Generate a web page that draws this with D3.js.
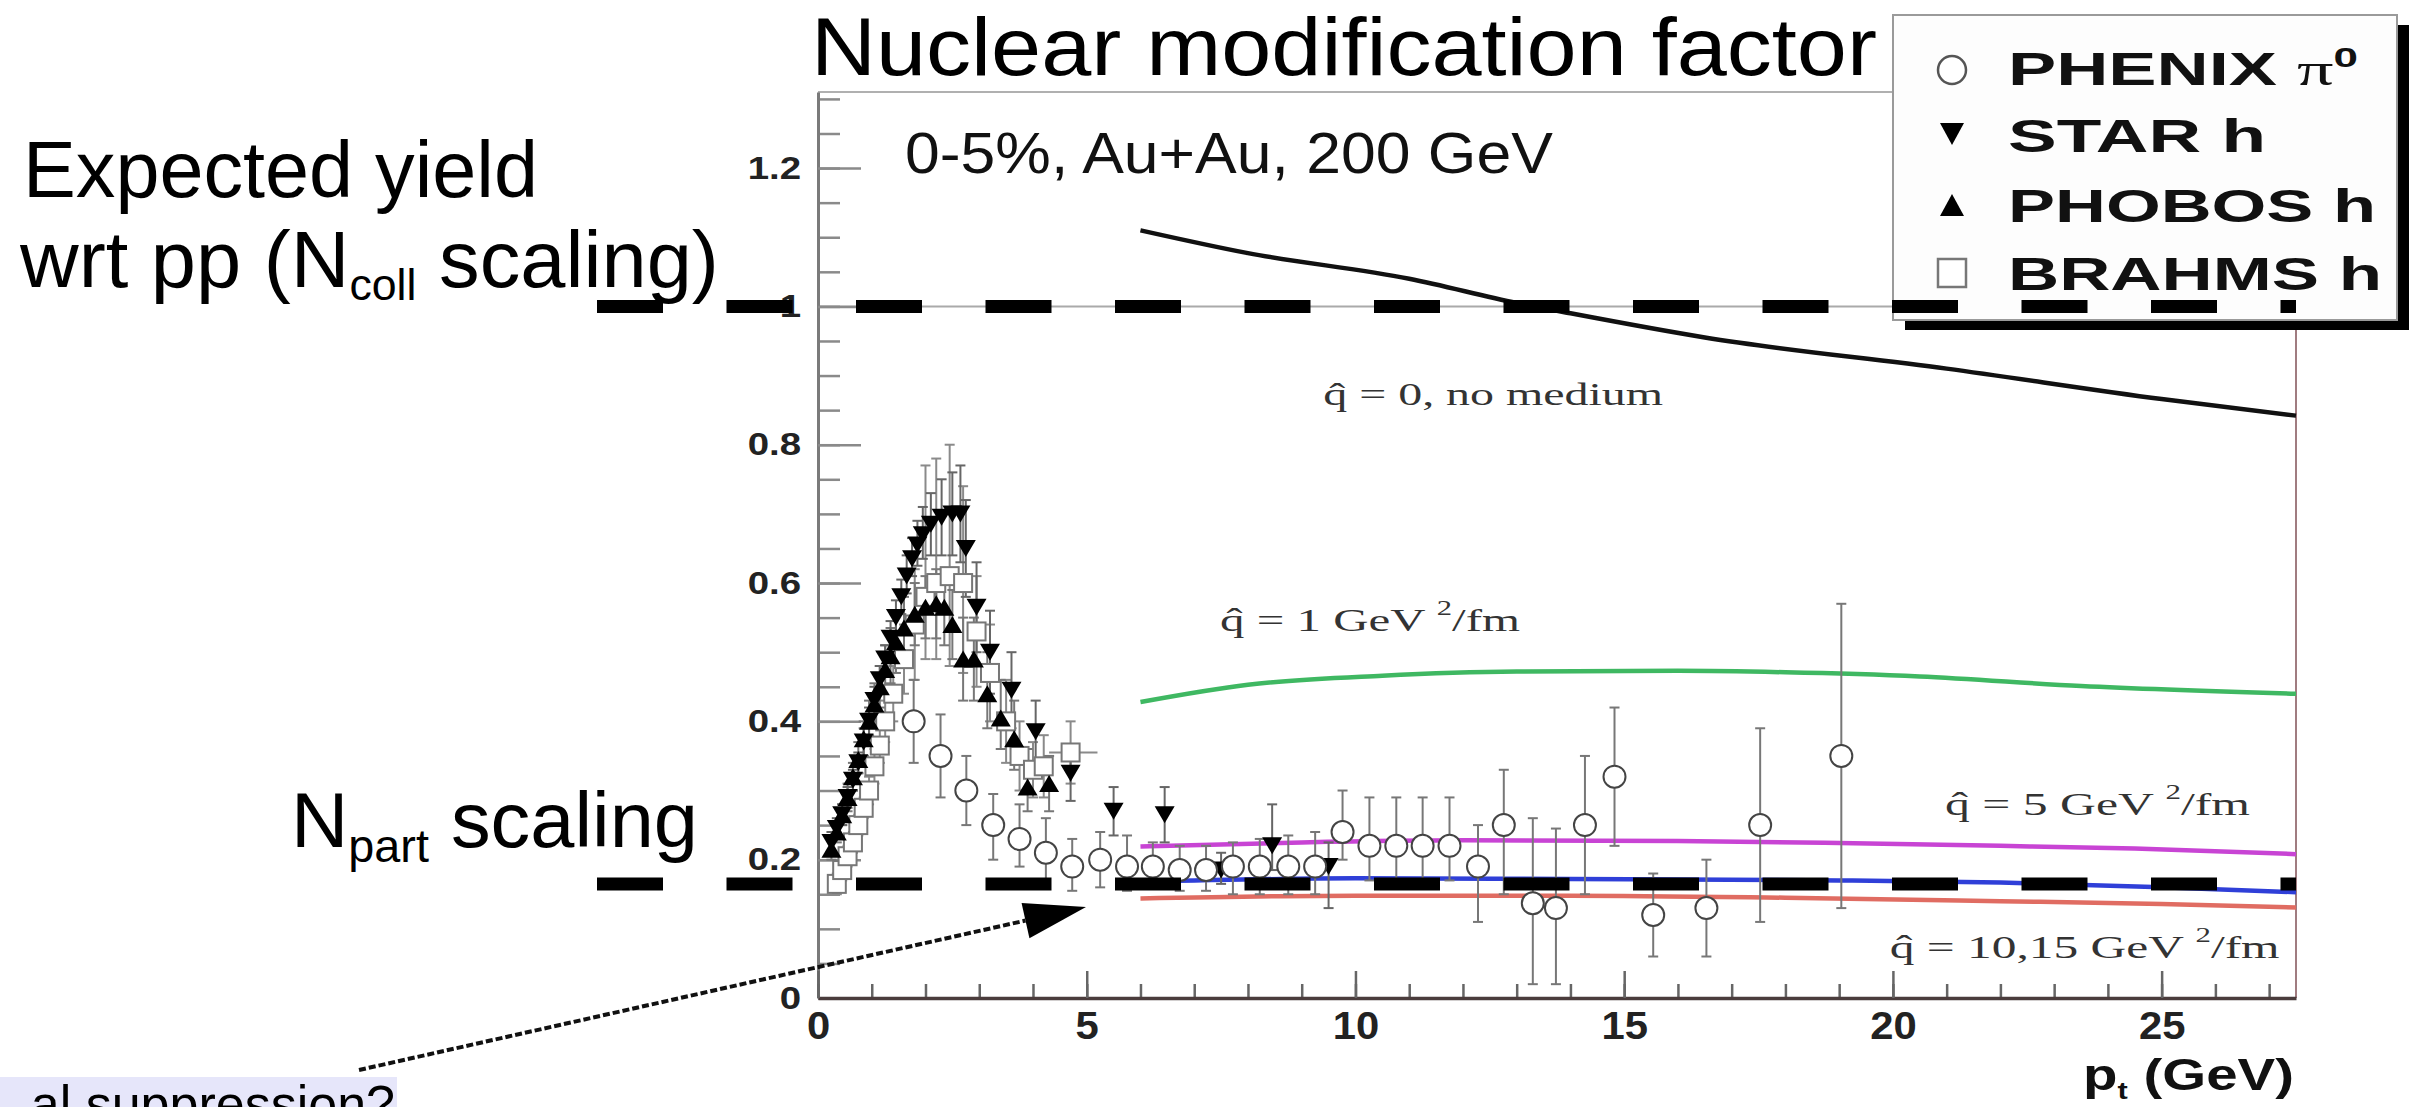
<!DOCTYPE html>
<html>
<head>
<meta charset="utf-8">
<script src="https://cdn.jsdelivr.net/npm/d3@7"></script>
<style>
  html, body { margin: 0; padding: 0; background: #fff; }
  svg { display: block; }
</style>
</head>
<body>
<svg id="chart" width="2418" height="1107"></svg>
<script>
// ---------------- DATA ----------------
// x axis: p_t (GeV), y axis: nuclear modification factor R_AA
const xTicksMajor = [0, 5, 10, 15, 20, 25];
const yTicksMajor = [0, 0.2, 0.4, 0.6, 0.8, 1.0, 1.2];

// PHENIX pi0 : [pt, R, low, high]
const phenix = [
  [1.78,0.40,0.34,0.46],[2.28,0.35,0.29,0.41],[2.76,0.30,0.25,0.35],[3.26,0.25,0.20,0.295],
  [3.75,0.23,0.19,0.28],[4.24,0.21,0.165,0.26],[4.73,0.19,0.155,0.23],[5.25,0.20,0.16,0.24],
  [5.75,0.19,0.155,0.235],[6.23,0.19,0.16,0.225],[6.73,0.185,0.155,0.22],[7.22,0.185,0.155,0.22],
  [7.72,0.19,0.15,0.225],[8.22,0.19,0.15,0.23],[8.75,0.19,0.15,0.235],[9.25,0.19,0.15,0.24],
  [9.76,0.24,0.20,0.30],[10.26,0.22,0.17,0.29],[10.76,0.22,0.17,0.29],[11.25,0.22,0.17,0.29],
  [11.75,0.22,0.17,0.29],[12.28,0.19,0.11,0.25],[12.76,0.25,0.15,0.33],[13.3,0.137,0.02,0.26],
  [13.73,0.13,0.02,0.245],[14.27,0.25,0.15,0.35],[14.82,0.32,0.22,0.42],[15.54,0.12,0.06,0.18],
  [16.53,0.13,0.06,0.20],[17.53,0.25,0.11,0.39],[19.04,0.35,0.13,0.57]
];
// STAR h : [pt, R, low, high]
const star = [
  [0.25,0.225,0.21,0.24],[0.35,0.245,0.23,0.26],[0.45,0.265,0.25,0.28],[0.55,0.29,0.275,0.305],
  [0.65,0.315,0.30,0.33],[0.75,0.34,0.325,0.355],[0.85,0.37,0.35,0.39],[0.95,0.40,0.38,0.42],
  [1.05,0.43,0.41,0.45],[1.15,0.46,0.44,0.48],[1.25,0.49,0.47,0.51],[1.35,0.52,0.50,0.545],
  [1.45,0.55,0.525,0.575],[1.55,0.58,0.555,0.605],[1.65,0.61,0.585,0.64],[1.75,0.635,0.61,0.665],
  [1.85,0.655,0.625,0.69],[1.95,0.67,0.635,0.71],[2.1,0.685,0.64,0.73],[2.3,0.695,0.64,0.75],
  [2.5,0.70,0.64,0.76],[2.65,0.70,0.63,0.77],[2.75,0.65,0.58,0.72],[2.95,0.565,0.50,0.63],
  [3.2,0.50,0.44,0.56],[3.6,0.445,0.39,0.50],[4.05,0.385,0.34,0.43],[4.7,0.325,0.285,0.365],
  [5.5,0.27,0.235,0.305],[6.45,0.265,0.225,0.305],[7.5,0.185,0.165,0.21],[8.45,0.22,0.185,0.28],
  [9.5,0.19,0.13,0.225]
];
// PHOBOS h : [pt, R, low, high]
const phobos = [
  [0.25,0.215,0.20,0.23],[0.35,0.24,0.225,0.255],[0.45,0.265,0.25,0.28],[0.55,0.29,0.27,0.31],
  [0.65,0.32,0.30,0.34],[0.75,0.345,0.325,0.37],[0.85,0.375,0.35,0.40],[0.95,0.40,0.375,0.43],
  [1.05,0.425,0.40,0.455],[1.15,0.45,0.42,0.48],[1.25,0.475,0.44,0.51],[1.35,0.495,0.455,0.535],
  [1.45,0.515,0.47,0.56],[1.6,0.535,0.49,0.58],[1.8,0.555,0.51,0.60],[2.0,0.565,0.52,0.61],
  [2.2,0.57,0.52,0.62],[2.35,0.565,0.51,0.62],[2.5,0.54,0.49,0.59],[2.7,0.49,0.43,0.55],
  [2.9,0.49,0.43,0.55],[3.15,0.44,0.39,0.50],[3.4,0.405,0.36,0.46],[3.65,0.375,0.33,0.43],
  [3.9,0.305,0.27,0.36],[4.3,0.31,0.27,0.35]
];
// BRAHMS h : [pt, R, low, high]
const brahms = [
  [0.35,0.165,0.15,0.18],[0.45,0.185,0.17,0.20],[0.55,0.205,0.19,0.22],[0.65,0.225,0.21,0.24],
  [0.75,0.25,0.235,0.265],[0.85,0.275,0.26,0.29],[0.95,0.30,0.28,0.32],[1.05,0.335,0.31,0.36],
  [1.15,0.365,0.34,0.39],[1.25,0.40,0.37,0.43],[1.4,0.44,0.40,0.48],[1.6,0.49,0.44,0.54],
  [1.8,0.54,0.46,0.62],[2.0,0.58,0.49,0.77],[2.2,0.60,0.49,0.78],[2.45,0.61,0.48,0.80],
  [2.7,0.60,0.47,0.74],[2.95,0.53,0.45,0.61],[3.2,0.47,0.40,0.54],[3.5,0.40,0.34,0.46],
  [3.75,0.35,0.30,0.40],[4.0,0.33,0.29,0.37],[4.2,0.335,0.29,0.38],[4.7,0.355,0.31,0.40]
];
const brahmsXErr = [[4.7, 4.3, 5.2]];

// theory curves [pt, R]
const curveNoMedium = [[6.0,1.11],[8,1.077],[11,1.04],[13,1.005],[14,0.99],[16.5,0.955],[21,0.91],[25,0.866],[27.5,0.842]];
const curveQ1  = [[6,0.428],[8,0.453],[10.5,0.466],[13,0.472],[16,0.473],[18,0.471],[20.5,0.465],[23.5,0.451],[27.5,0.44]];
const curveQ5  = [[6,0.219],[9,0.225],[12,0.228],[16,0.227],[19,0.224],[22,0.22],[24.5,0.216],[27.5,0.208]];
const curveQ10 = [[6,0.168],[10,0.173],[14,0.172],[19,0.17],[22,0.167],[25,0.16],[27.5,0.153]];
const curveQ15 = [[6,0.144],[10,0.148],[14,0.148],[18,0.145],[22,0.14],[25,0.136],[27.5,0.131]];

// reference (scaling) levels
const nCollLevel = 1.0;
const nPartLevel = 0.165;

const legendLabels = ["PHENIX", "STAR h", "PHOBOS h", "BRAHMS h"];

// ---------------- DRAWING ----------------
const SANS = "'Liberation Sans', Arial, Helvetica, sans-serif";
const SERIF = "'Liberation Serif', 'DejaVu Serif', 'Times New Roman', serif";
const svg = d3.select('#chart');
svg.append('rect').attr('width', 2418).attr('height', 1107).attr('fill', '#fff');

const x = d3.scaleLinear().domain([0, 27.5]).range([818, 2296]);
const y = d3.scaleLinear().domain([0, 1.31]).range([998, 92]);

function stretchText(parent, px, py, parts, o) {
  const g = parent.append('g');
  const t = g.append('text')
    .attr('font-family', o.family || SANS)
    .attr('font-size', o.size)
    .attr('font-weight', o.weight || 'normal')
    .attr('fill', o.fill || '#000')
    .attr('text-anchor', o.anchor || 'start');
  parts.forEach(p => {
    const ts = t.append('tspan').text(p.t);
    if (p.size) ts.attr('font-size', p.size);
    if (p.dy) ts.attr('dy', p.dy);
    if (p.family) ts.attr('font-family', p.family);
    if (p.weight) ts.attr('font-weight', p.weight);
  });
  const w = t.node().getComputedTextLength();
  const sx = o.width ? o.width / w : 1;
  g.attr('transform', `translate(${px},${py}) scale(${sx},1)`);
  return g;
}

// frame lines (top & right)
svg.append('line').attr('x1', x(0)).attr('x2', x(27.5)).attr('y1', y(1.31)).attr('y2', y(1.31))
  .attr('stroke', '#b0b0b0').attr('stroke-width', 2);
svg.append('line').attr('x1', x(27.5)).attr('x2', x(27.5)).attr('y1', y(1.31)).attr('y2', y(0))
  .attr('stroke', '#a07c80').attr('stroke-width', 2);
// thin grey line at 1
svg.append('line').attr('x1', x(0)).attr('x2', x(27.5)).attr('y1', y(1)).attr('y2', y(1))
  .attr('stroke', '#aaa').attr('stroke-width', 2);

// Y axis minor
const yMinor = d3.range(0, 1.3001, 0.05);
const gyMinor = svg.append('g').attr('transform', `translate(${x(0)},0)`)
  .call(d3.axisLeft(y).tickValues(yMinor).tickSize(-22).tickSizeOuter(0).tickFormat(''));
gyMinor.select('.domain').remove();
gyMinor.selectAll('.tick line').attr('stroke', '#8a8a8a').attr('stroke-width', 2.5);

// Y axis major
const gy = svg.append('g').attr('transform', `translate(${x(0)},0)`)
  .call(d3.axisLeft(y).tickValues(yTicksMajor).tickSize(-43).tickSizeOuter(0).tickPadding(17).tickFormat(d3.format('~g')));
gy.select('.domain').attr('stroke', '#7a7a7a').attr('stroke-width', 3);
gy.selectAll('.tick line').attr('stroke', '#8a8a8a').attr('stroke-width', 2.5);
gy.selectAll('.tick text').attr('font-family', SANS).attr('font-size', 32).attr('font-weight', 'bold')
  .attr('fill', '#222')
  .each(function () { const w = this.getComputedTextLength(); d3.select(this).attr('textLength', w * 1.2).attr('lengthAdjust', 'spacingAndGlyphs'); });

// X axis minor
const xMinor = d3.range(0, 27.01, 1);
const gxMinor = svg.append('g').attr('transform', `translate(0,${y(0)})`)
  .call(d3.axisBottom(x).tickValues(xMinor).tickSize(-14).tickSizeOuter(0).tickFormat(''));
gxMinor.select('.domain').remove();
gxMinor.selectAll('.tick line').attr('stroke', '#666').attr('stroke-width', 2.5);

// X axis major
const gx = svg.append('g').attr('transform', `translate(0,${y(0)})`)
  .call(d3.axisBottom(x).tickValues(xTicksMajor).tickSize(-27).tickSizeOuter(0).tickPadding(14).tickFormat(d3.format('d')));
gx.select('.domain').attr('stroke', '#4a3c3c').attr('stroke-width', 3.5);
gx.selectAll('.tick line').attr('stroke', '#666').attr('stroke-width', 2.5);
gx.selectAll('.tick text').attr('font-family', SANS).attr('font-size', 38).attr('font-weight', 'bold')
  .attr('fill', '#222')
  .each(function () { const w = this.getComputedTextLength(); d3.select(this).attr('textLength', w * 1.1).attr('lengthAdjust', 'spacingAndGlyphs'); });

// x axis title
stretchText(svg, 2294, 1090, [{t:'p'},{t:'t', size: 24, dy: 9},{t:' (GeV)', dy: -9}],
  {size: 44, weight: 'bold', anchor: 'end', width: 211, fill: '#111'});

// Theory curves
const line = d3.line().x(d => x(d[0])).y(d => y(d[1])).curve(d3.curveMonotoneX);
const curves = [
  [curveQ15, '#e06c62'], [curveQ10, '#2f3fd8'], [curveQ5, '#c844d4'], [curveQ1, '#3fb862'], [curveNoMedium, '#111']
];
curves.forEach(([data, col]) => {
  svg.append('path').attr('d', line(data)).attr('fill', 'none').attr('stroke', col).attr('stroke-width', 4.5);
});

// curve labels (serif)
const qhat = 'q\u0302';
stretchText(svg, x(9.4), y(0.857), [{t: qhat + ' = 0, no medium'}], {size: 32, family: SERIF, fill: '#333', width: 340});
stretchText(svg, x(7.48), y(0.531), [{t: qhat + ' = 1 GeV '}, {t:'2', size: 20, dy: -16}, {t:'/fm', dy: 16}], {size: 32, family: SERIF, fill: '#333', width: 300});
stretchText(svg, x(20.97), y(0.265), [{t: qhat + ' = 5 GeV '}, {t:'2', size: 20, dy: -16}, {t:'/fm', dy: 16}], {size: 32, family: SERIF, fill: '#333', width: 305});
stretchText(svg, x(19.94), y(0.058), [{t: qhat + ' = 10,15 GeV '}, {t:'2', size: 20, dy: -16}, {t:'/fm', dy: 16}], {size: 32, family: SERIF, fill: '#333', width: 390});

// Error bars
function errBars(data, col) {
  const g = svg.append('g').attr('stroke', col).attr('stroke-width', 2).attr('fill', 'none');
  data.forEach(d => {
    g.append('line').attr('x1', x(d[0])).attr('x2', x(d[0])).attr('y1', y(d[2])).attr('y2', y(d[3]));
    g.append('line').attr('x1', x(d[0]) - 5).attr('x2', x(d[0]) + 5).attr('y1', y(d[2])).attr('y2', y(d[2]));
    g.append('line').attr('x1', x(d[0]) - 5).attr('x2', x(d[0]) + 5).attr('y1', y(d[3])).attr('y2', y(d[3]));
  });
}
errBars(brahms, '#8a8a8a');
errBars(phobos, '#777');
errBars(star, '#666');
errBars(phenix, '#777');
brahmsXErr.forEach(d => {
  svg.append('line').attr('x1', x(d[1])).attr('x2', x(d[2])).attr('y1', y(0.355)).attr('y2', y(0.355))
    .attr('stroke', '#8a8a8a').attr('stroke-width', 2);
});

function triPath(cx, cy, w, h, down) {
  return down
    ? `M${cx - w / 2},${cy - h / 2}L${cx + w / 2},${cy - h / 2}L${cx},${cy + h / 2}Z`
    : `M${cx - w / 2},${cy + h / 2}L${cx + w / 2},${cy + h / 2}L${cx},${cy - h / 2}Z`;
}
// BRAHMS squares
svg.append('g').selectAll('rect').data(brahms).join('rect')
  .attr('x', d => x(d[0]) - 9).attr('y', d => y(d[1]) - 9).attr('width', 18).attr('height', 18)
  .attr('fill', '#fff').attr('stroke', '#777').attr('stroke-width', 2);
// PHOBOS up triangles
svg.append('g').selectAll('path').data(phobos).join('path')
  .attr('d', d => triPath(x(d[0]), y(d[1]), 20, 17, false)).attr('fill', '#000');
// STAR down triangles
svg.append('g').selectAll('path').data(star).join('path')
  .attr('d', d => triPath(x(d[0]), y(d[1]), 20, 17, true)).attr('fill', '#000');
// PHENIX circles
svg.append('g').selectAll('circle').data(phenix).join('circle')
  .attr('cx', d => x(d[0])).attr('cy', d => y(d[1])).attr('r', 11)
  .attr('fill', '#fff').attr('stroke', '#444').attr('stroke-width', 2);

// text inside plot
stretchText(svg, 905, 173, [{t:'0-5%, Au+Au, 200 GeV'}], {size: 58, width: 648, fill: '#111'});

// Title
stretchText(svg, 811, 75, [{t:'Nuclear modification factor'}], {size: 82, width: 1066});

// Legend
svg.append('rect').attr('x', 1905).attr('y', 25).attr('width', 504).attr('height', 305).attr('fill', '#000');
svg.append('rect').attr('x', 1893).attr('y', 15).attr('width', 504).attr('height', 305)
  .attr('fill', '#fdfdfd').attr('stroke', '#9a9a9a').attr('stroke-width', 2);
const lgX = 1952;
svg.append('circle').attr('cx', lgX).attr('cy', 70).attr('r', 14).attr('fill', '#fff').attr('stroke', '#555').attr('stroke-width', 2.5);
svg.append('path').attr('d', triPath(lgX, 134, 24, 22, true)).attr('fill', '#000');
svg.append('path').attr('d', triPath(lgX, 205, 24, 22, false)).attr('fill', '#000');
svg.append('rect').attr('x', lgX - 14).attr('y', 259).attr('width', 28).attr('height', 28)
  .attr('fill', '#fff').attr('stroke', '#777').attr('stroke-width', 2.5);
const lgT = 2008;
stretchText(svg, lgT, 85, [{t: legendLabels[0] + ' '}, {t:'\u03c0', family: SERIF, weight: 'normal'}, {t:'0', size: 28, dy: -18}],
  {size: 46, weight: 'bold', width: 350, fill: '#111'});
stretchText(svg, lgT, 152, [{t: legendLabels[1]}], {size: 46, weight: 'bold', width: 258, fill: '#111'});
stretchText(svg, lgT, 222, [{t: legendLabels[2]}], {size: 46, weight: 'bold', width: 368, fill: '#111'});
stretchText(svg, lgT, 290, [{t: legendLabels[3]}], {size: 46, weight: 'bold', width: 374, fill: '#111'});

// Slide annotations: thick dashed reference lines
[nCollLevel, nPartLevel].forEach(v => {
  svg.append('line').attr('x1', 597).attr('x2', x(27.5)).attr('y1', y(v)).attr('y2', y(v))
    .attr('stroke', '#000').attr('stroke-width', 13).attr('stroke-dasharray', '66 63.5');
});

// Left annotations
stretchText(svg, 23, 197, [{t:'Expected yield'}], {size: 80, width: 515});
stretchText(svg, 20, 287, [{t:'wrt pp (N'},{t:'coll', size: 44, dy: 13},{t:' scaling)', dy: -13}], {size: 80, width: 699});
stretchText(svg, 291, 847, [{t:'N'},{t:'part', size: 46, dy: 15},{t:' scaling', dy: -15}], {size: 78, width: 407});

// Bottom-left box
svg.append('rect').attr('x', 0).attr('y', 1077).attr('width', 397).attr('height', 40).attr('fill', '#e6e6fa');
stretchText(svg, 395, 1122, [{t:'al suppression?'}], {size: 52, anchor: 'end'});

// Arrow
const ax0 = 359, ay0 = 1070, ax1 = 1086, ay1 = 907;
const ang = Math.atan2(ay1 - ay0, ax1 - ax0);
const hl = 62, hw = 18;
const bx = ax1 - hl * Math.cos(ang), by = ay1 - hl * Math.sin(ang);
svg.append('line').attr('x1', ax0).attr('y1', ay0).attr('x2', bx).attr('y2', by)
  .attr('stroke', '#111').attr('stroke-width', 4).attr('stroke-dasharray', '7 3');
svg.append('path')
  .attr('d', `M${ax1},${ay1}L${bx - hw * Math.sin(ang)},${by + hw * Math.cos(ang)}L${bx + hw * Math.sin(ang)},${by - hw * Math.cos(ang)}Z`)
  .attr('fill', '#000');
</script>
</body>
</html>
